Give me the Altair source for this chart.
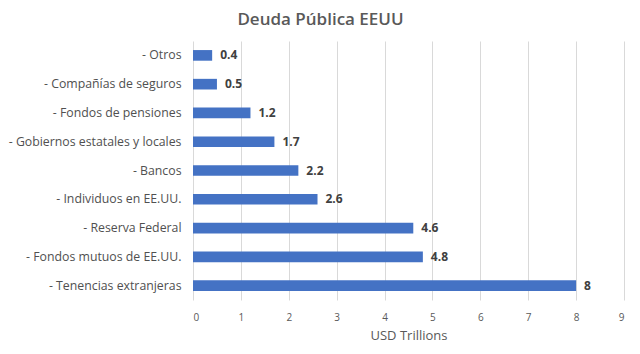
import altair as alt
import pandas as pd

categories = [
    "- Otros",
    "- Compañías de seguros",
    "- Fondos de pensiones",
    "- Gobiernos estatales y locales",
    "- Bancos",
    "- Individuos en EE.UU.",
    "- Reserva Federal",
    "- Fondos mutuos de EE.UU.",
    "- Tenencias extranjeras",
]
values = [0.4, 0.5, 1.2, 1.7, 2.2, 2.6, 4.6, 4.8, 8]
x_ticks = [0, 1, 2, 3, 4, 5, 6, 7, 8, 9]

df = pd.DataFrame({"cat": categories, "val": values})
FONT = "Open Sans"
GRAY = "#595959"

y_enc = alt.Y(
    "cat:N",
    sort=categories,
    title=None,
    scale=alt.Scale(paddingInner=0.63, paddingOuter=0.315),
    axis=alt.Axis(domain=False, ticks=False, grid=False, labelFont=FONT,
                  labelFontSize=12.3, labelColor="#505050", labelPadding=12,
                  labelLimit=300),
)
x_enc = alt.X(
    "val:Q",
    title="USD Trillions",
    scale=alt.Scale(domain=[0, 9], nice=False),
    axis=alt.Axis(values=x_ticks, domain=False, ticks=False, grid=True,
                  gridColor="#d9d9d9", labelFont=FONT, labelFontSize=10,
                  labelColor=GRAY, labelPadding=12, titleFont=FONT,
                  titleFontSize=13, titleFontWeight="normal", titleColor=GRAY,
                  titlePadding=7),
)

bars = alt.Chart(df).mark_bar(color="#4472C4").encode(x=x_enc, y=y_enc)
labels = alt.Chart(df).mark_text(
    align="left", dx=8, font=FONT, fontSize=12, fontWeight="bold", color="#404040"
).encode(x=alt.X("val:Q"), y=alt.Y("cat:N", sort=categories), text=alt.Text("val:Q"))

chart = (
    (bars + labels)
    .properties(
        width=431,
        height=259,
        autosize=alt.AutoSizeParams(type="none"),
        padding={"left": 193, "top": 41, "right": 16, "bottom": 54},
        title=alt.TitleParams(
            "Deuda Pública EEUU", font=FONT, fontSize=17, fontWeight=600,
            color=GRAY, anchor="middle", dx=-88, offset=12,
        ),
        background="white",
    )
    .configure_view(stroke=None)
)

chart.save("out.html", embed_options={"renderer": "svg", "actions": False})
